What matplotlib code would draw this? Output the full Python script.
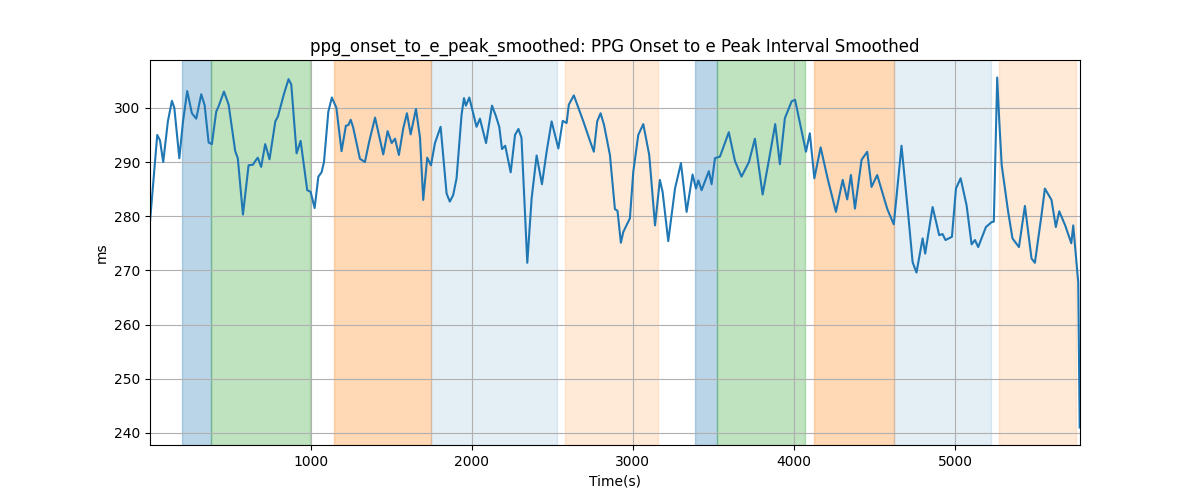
import matplotlib
matplotlib.use("Agg")
import matplotlib.pyplot as plt

# time (s) and smoothed interval (ms)
t = [3, 48, 65, 85, 114, 139, 154, 185, 208, 234, 263, 290, 321, 342, 367, 387,
     414, 429, 462, 491, 532, 548, 580, 615, 642, 657, 672, 693, 718, 745, 781,
     797, 834, 863, 880, 913, 938, 979, 1000, 1025, 1048, 1068, 1083, 1110, 1132,
     1160, 1192, 1219, 1234, 1249, 1264, 1306, 1337, 1364, 1400, 1451, 1478,
     1503, 1524, 1548, 1575, 1598, 1621, 1654, 1679, 1699, 1724, 1747, 1772,
     1807, 1844, 1864, 1885, 1906, 1937, 1952, 1964, 1985, 2030, 2051, 2089,
     2126, 2150, 2171, 2188, 2208, 2242, 2269, 2290, 2309, 2345, 2372, 2403,
     2436, 2465, 2496, 2538, 2565, 2589, 2603, 2634, 2693, 2733, 2758, 2779,
     2800, 2821, 2858, 2889, 2905, 2926, 2941, 2982, 3003, 3034, 3065, 3102,
     3138, 3168, 3185, 3220, 3262, 3299, 3334, 3371, 3392, 3407, 3427, 3472,
     3489, 3510, 3541, 3596, 3634, 3675, 3721, 3758, 3806, 3847, 3884, 3913,
     3944, 3986, 4007, 4041, 4075, 4099, 4127, 4166, 4209, 4261, 4303, 4331,
     4354, 4379, 4420, 4455, 4482, 4517, 4580, 4620, 4668, 4710, 4737, 4761,
     4799, 4815, 4861, 4902, 4923, 4941, 4981, 5006, 5035, 5072, 5103, 5124,
     5144, 5192, 5227, 5241, 5262, 5275, 5290, 5330, 5357, 5397, 5434, 5475,
     5496, 5537, 5558, 5599, 5626, 5647, 5684, 5722, 5734, 5765, 5774]
ms = [279, 295, 294, 290, 297.5, 301.3, 300, 290.7, 297.5, 303.1, 299, 298,
      302.5, 300.5, 293.6, 293.3, 299.3, 300.3, 303, 300.6, 292, 290.7, 280.3,
      289.4, 289.5, 290.2, 290.8, 289.1, 293.3, 290.5, 297.5, 298.4, 302.5,
      305.3, 304.3, 291.6, 293.9, 284.8, 284.5, 281.5, 287.3, 288.1, 290, 299.3,
      301.9, 300, 292, 296.7, 296.8, 297.8, 296.4, 290.6, 290, 293.8, 298.2,
      291.4, 295.7, 293.5, 294.3, 291.3, 296.2, 299, 295.1, 299.8, 294.5, 283,
      290.8, 289.4, 293.5, 296.5, 284.2, 282.7, 283.9, 287, 298.7, 301.8, 300.4,
      301.9, 296.5, 298, 293.5, 300.4, 298.5, 296.5, 292.4, 293, 288.1, 295,
      296.1, 294.5, 271.4, 283.3, 291.2, 285.9, 291.9, 297.5, 292.5, 297.6,
      297.2, 300.6, 302.3, 297.5, 294, 291.9, 297.5, 299, 296.9, 291.3, 281.3,
      281, 275.1, 277.1, 279.6, 288.2, 295, 297, 291.3, 278.3, 286.7, 284.5,
      275.4, 285.1, 289.8, 280.8, 287.7, 285.1, 286.6, 284.8, 288.3, 285.9,
      290.7, 291, 295.5, 290.2, 287.3, 290, 294.3, 284, 290.7, 297, 289.6,
      298.1, 301.2, 301.5, 296.7, 291.9, 295.3, 287, 292.7, 287, 280.8, 286.7,
      283.1, 287.6, 281.4, 290.4, 291.9, 285.4, 287.6, 281.3, 278.5, 293, 280.2,
      271.5, 269.6, 275.9, 273.1, 281.7, 276.5, 276.7, 275.6, 276.2, 285.1, 287,
      282, 274.8, 275.6, 274.3, 278, 278.9, 279, 305.6, 297.5, 289.4, 280.8,
      275.9, 274.3, 281.9, 272.2, 271.4, 280.2, 285.1, 283, 278, 280.9, 278.3,
      275, 278.3, 267.8, 241]

# shaded phases
span_start = [199, 381, 1145, 1745, 2579, 3386, 3524, 4124, 4621, 5273]
span_end = [381, 996, 1745, 2529, 3154, 3524, 4069, 4621, 5221, 5751]
span_color = ['tab:blue', 'tab:green', 'tab:orange', 'tab:blue', 'tab:orange',
              'tab:blue', 'tab:green', 'tab:orange', 'tab:blue', 'tab:orange']
span_alpha = [0.3, 0.3, 0.3, 0.12, 0.16, 0.3, 0.3, 0.3, 0.12, 0.16]

fig, ax = plt.subplots(figsize=(12, 5), dpi=100)
for s, e, c, a in zip(span_start, span_end, span_color, span_alpha):
    ax.axvspan(s, e, color=c, alpha=a)
ax.plot(t, ms, color='tab:blue', linewidth=1.5)
ax.set_xlim(t[0], t[-1] + 2)
ax.set_title("ppg_onset_to_e_peak_smoothed: PPG Onset to e Peak Interval Smoothed")
ax.set_xlabel("Time(s)")
ax.set_ylabel("ms")
ax.grid(True)
fig.savefig("out.png")
